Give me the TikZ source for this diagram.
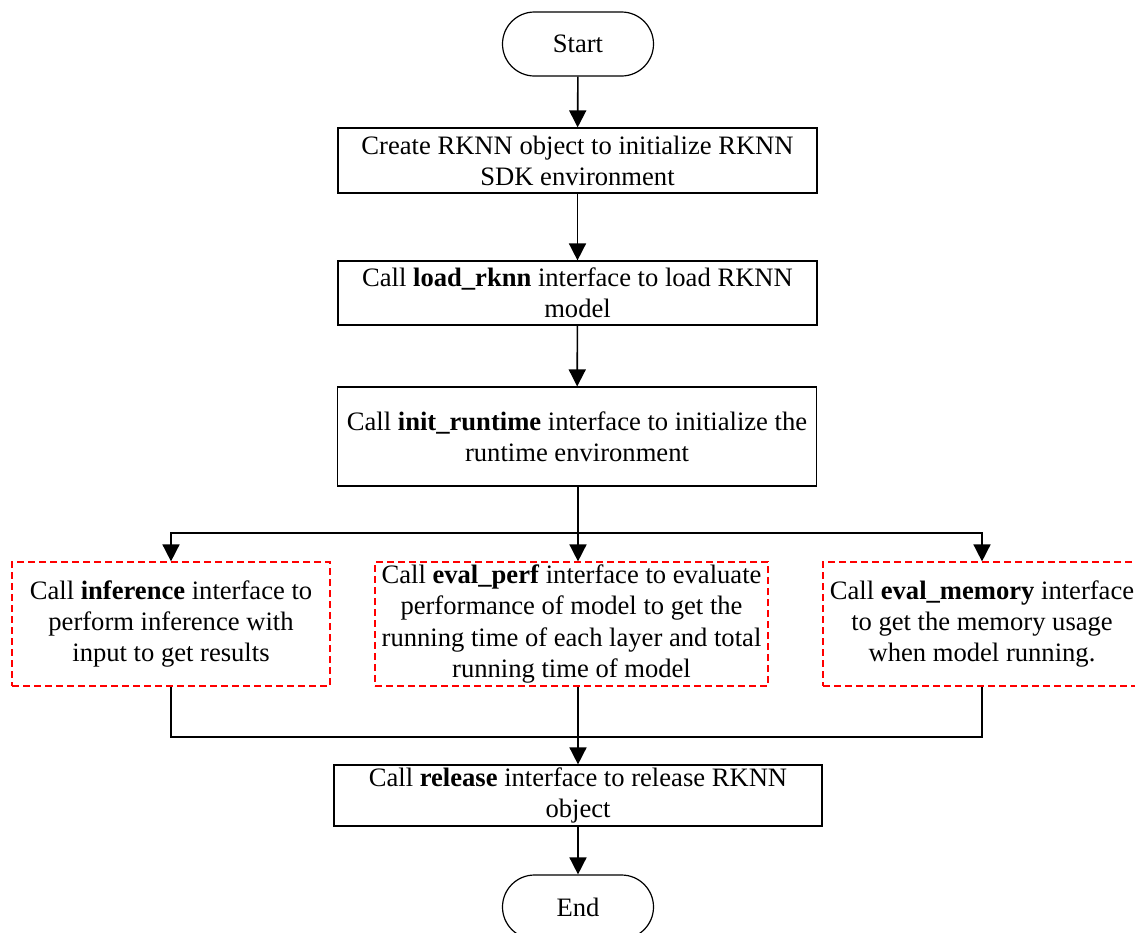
\documentclass[tikz,border=0pt]{standalone}
\usepackage{fontspec}
\setmainfont{Liberation Serif}
\usetikzlibrary{arrows.meta,positioning,calc}
\tikzstyle{nT}=[rectangle,rounded corners=16pt,draw,line width=0.6pt,minimum width=75.5pt,minimum height=32pt,inner sep=0pt,font=\fontsize{13.3}{15.6}\selectfont]
\tikzstyle{nB}=[rectangle,draw,line width=0.6pt,minimum width=239.5pt,inner xsep=0pt,inner ysep=1pt,align=center,font=\fontsize{13.3}{15.6}\selectfont]
\tikzstyle{nD}=[rectangle,draw=red,line width=0.6pt,dash pattern=on 3.5pt off 2pt,minimum height=62pt,inner xsep=0pt,inner ysep=1pt,align=center,font=\fontsize{13.3}{15.6}\selectfont]
\tikzstyle{eA}=[line width=0.8pt,-{Triangle[width=8.5pt,length=8.5pt]}]
\tikzstyle{eL}=[line width=0.8pt]

\begin{document}
\begin{tikzpicture}[x=0.5pt,y=-0.5pt]%1 unit = 1 pixel of the reference
                \clip (0,0) rectangle (1135,932);
                \draw (578,44) node[nT] (start) {Start};
                \draw (577.5,160.5) node[nB,minimum height=32.5pt] (create) {Create RKNN object to initialize RKNN\\SDK environment};
                \draw (577.5,293) node[nB,minimum height=32pt] (load) {Call \textbf{load\_rknn} interface to load RKNN\\model};
                \draw (577,436.5) node[nB,minimum height=49.5pt] (init) {Call \textbf{init\_runtime} interface to initialize the\\runtime environment};
                \draw (171,624) node[nD,minimum width=159pt] (infer) {Call \textbf{inference} interface to\\perform inference with\\input to get results};
                \draw (571.5,624) node[nD,minimum width=196.5pt] (perf) {Call \textbf{eval\_perf} interface to evaluate\\performance of model to get the\\running time of each layer and total\\running time of model};
                \draw (982,624) node[nD,minimum width=159pt] (mem) {Call \textbf{eval\_memory} interface\\to get the memory usage\\when model running.};
                \draw (578,795.5) node[nB,minimum width=244pt,minimum height=30.5pt,inner ysep=0pt] (release) {Call \textbf{release} interface to release RKNN\\object};
                \draw (578,907) node[nT] (end) {End};
                \coordinate (split) at (578,533);
                \coordinate (join) at (578,737);
                \path
                    (start) edge[eA] (create)
                    (create) edge[eA] (load)
                    (load) edge[eA] (init)
                ;
                \draw[eA] (init.south -| split) -- (split |- perf.north);
                \draw[eA] (split) -| (infer.north);
                \draw[eA] (split) -| (mem.north);
                \draw[eL] (infer.south) |- (join);
                \draw[eL] (mem.south) |- (join);
                \draw[eA] (split |- perf.south) -- (release.north);
                \draw[eA] (release) -- (end);
        \end{tikzpicture}
\end{document}
